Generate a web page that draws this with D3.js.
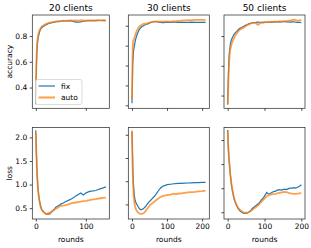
<!DOCTYPE html>
<html>
<head>
<meta charset="utf-8">
<script src="https://cdn.jsdelivr.net/npm/d3@7"></script>
<style>
  html, body { margin: 0; padding: 0; background: #fff; }
  svg text { font-family: "DejaVu Sans", sans-serif; fill: #000; }
</style>
</head>
<body>
<svg id="chart" width="311" height="248"></svg>
<script>
// ---- data ----
var titles = ["20 clients", "30 clients", "50 clients"];
var seriesNames = ["fix", "auto"];

var rounds20 = [0,1,2,3,4,5,6,8,10,12,15,18,20,23,25,28,30,33,35,38,40,43,45,48,50,55,60,65,70,75,80,85,90,95,100,105,110,115,120,125,130,135,140];
var acc20Fix = [0.27,0.52,0.66,0.73,0.77,0.79,0.81,0.84,0.855,0.865,0.875,0.882,0.887,0.893,0.897,0.9,0.902,0.905,0.907,0.909,0.911,0.913,0.912,0.915,0.916,0.918,0.917,0.92,0.918,0.914,0.909,0.908,0.91,0.915,0.918,0.92,0.919,0.921,0.92,0.922,0.921,0.922,0.921];
var acc20Auto = [0.33,0.58,0.7,0.76,0.79,0.81,0.83,0.85,0.865,0.874,0.882,0.889,0.893,0.898,0.9,0.904,0.906,0.908,0.91,0.912,0.914,0.915,0.916,0.914,0.917,0.919,0.918,0.92,0.921,0.92,0.921,0.92,0.922,0.921,0.92,0.922,0.921,0.922,0.921,0.922,0.922,0.921,0.921];
var loss20Fix = [2.15,1.75,1.4,1.15,0.98,0.86,0.76,0.62,0.53,0.47,0.43,0.4,0.385,0.37,0.375,0.38,0.4,0.43,0.46,0.49,0.52,0.54,0.55,0.57,0.585,0.61,0.64,0.665,0.69,0.72,0.76,0.79,0.82,0.78,0.82,0.845,0.86,0.865,0.875,0.895,0.915,0.93,0.95];
var loss20Auto = [2.1,1.7,1.36,1.12,0.95,0.83,0.74,0.6,0.51,0.46,0.42,0.39,0.375,0.38,0.4,0.39,0.42,0.44,0.45,0.47,0.49,0.5,0.52,0.54,0.55,0.555,0.565,0.58,0.6,0.61,0.62,0.63,0.64,0.65,0.655,0.665,0.675,0.685,0.69,0.7,0.71,0.72,0.725];

var rounds30 = [0,1,2,3,4,5,7,9,11,14,17,20,24,28,33,38,43,48,52,57,62,67,72,76,81,86,90,95,100,110,120,125,130,140,150,160,170,180,190,200,210];
var acc30Fix = [0.51,0.6,0.7,0.74,0.765,0.78,0.8,0.82,0.835,0.852,0.866,0.878,0.888,0.895,0.9,0.905,0.908,0.912,0.915,0.918,0.92,0.921,0.92,0.918,0.917,0.916,0.916,0.917,0.917,0.917,0.918,0.918,0.917,0.917,0.917,0.917,0.918,0.917,0.917,0.917,0.917];
var acc30Auto = [0.53,0.66,0.78,0.82,0.825,0.83,0.84,0.85,0.862,0.875,0.885,0.893,0.9,0.905,0.909,0.91,0.912,0.915,0.917,0.92,0.921,0.922,0.921,0.922,0.921,0.922,0.921,0.922,0.922,0.921,0.923,0.922,0.924,0.925,0.927,0.928,0.928,0.929,0.929,0.929,0.928];
var loss30Fix = [2.07,1.75,1.4,1.15,0.97,0.84,0.68,0.59,0.54,0.5,0.46,0.42,0.39,0.39,0.41,0.45,0.5,0.55,0.58,0.62,0.66,0.7,0.76,0.8,0.85,0.88,0.9,0.91,0.925,0.935,0.945,0.95,0.952,0.955,0.958,0.962,0.965,0.968,0.97,0.973,0.975];
var loss30Auto = [2.09,1.65,1.25,0.98,0.8,0.67,0.53,0.45,0.4,0.36,0.33,0.31,0.295,0.295,0.31,0.35,0.4,0.45,0.49,0.52,0.55,0.58,0.61,0.63,0.66,0.675,0.685,0.695,0.7,0.71,0.73,0.72,0.73,0.74,0.75,0.76,0.765,0.77,0.78,0.785,0.795];

var rounds50 = [0,1,2,3,4,5,7,9,11,14,17,20,24,28,33,38,43,48,52,57,62,67,72,77,82,87,92,97,102,106,110,115,120,125,130,135,140,145,150,155,160,165,170,175,180,185,190,195,200];
var acc50Fix = [0.34,0.45,0.55,0.62,0.67,0.7,0.74,0.765,0.78,0.795,0.81,0.82,0.83,0.842,0.852,0.858,0.865,0.872,0.876,0.882,0.886,0.889,0.891,0.892,0.894,0.893,0.89,0.892,0.894,0.893,0.892,0.894,0.895,0.894,0.896,0.895,0.897,0.896,0.898,0.897,0.896,0.895,0.894,0.896,0.895,0.893,0.892,0.893,0.891];
var acc50Auto = [0.34,0.42,0.5,0.56,0.62,0.67,0.71,0.73,0.75,0.77,0.785,0.8,0.815,0.83,0.842,0.85,0.856,0.866,0.872,0.878,0.884,0.888,0.89,0.886,0.876,0.885,0.893,0.89,0.895,0.893,0.896,0.894,0.897,0.895,0.898,0.896,0.899,0.898,0.899,0.901,0.9,0.903,0.905,0.908,0.911,0.907,0.902,0.905,0.909];
var loss50Fix = [2.21,2.0,1.82,1.68,1.58,1.49,1.3,1.15,1.03,0.9,0.79,0.71,0.64,0.58,0.53,0.5,0.48,0.475,0.48,0.5,0.53,0.58,0.61,0.64,0.67,0.71,0.76,0.8,0.86,0.91,0.88,0.89,0.91,0.93,0.94,0.96,0.97,0.96,0.97,0.98,0.97,0.99,1.0,1.0,1.01,1.0,1.02,1.04,1.07];
var loss50Auto = [2.19,1.98,1.8,1.66,1.56,1.47,1.3,1.16,1.05,0.92,0.81,0.73,0.66,0.6,0.55,0.52,0.5,0.49,0.49,0.5,0.52,0.55,0.58,0.61,0.64,0.68,0.72,0.76,0.8,0.83,0.85,0.86,0.87,0.875,0.88,0.89,0.9,0.91,0.92,0.925,0.92,0.9,0.89,0.885,0.88,0.88,0.885,0.89,0.9];

var xTicks20 = [0, 100];
var xTicks = [0, 100, 200];
var accTicks20 = [0.4, 0.6, 0.8];
var accTicks30 = [0.5, 0.6, 0.7, 0.8, 0.9];
var accTicks50 = [0.4, 0.6, 0.8];
var lossTicks = [0.5, 1.0, 1.5, 2.0];

// ---- layout ----
var colors = { fix: "#1f77b4", auto: "#ff7f0e" };
var cols = [[32.3, 109.3], [128.3, 209.3], [224, 305]];
var rows = [[15, 108.3], [127.5, 219]];
var tickFont = 7.5, titleFont = 9;

var panels = [
  { r: 0, c: 0, x: rounds20, fix: acc20Fix, auto: acc20Auto, xd: [-7, 147], yd: [0.2386, 0.9637], yt: accTicks20, xt: xTicks20 },
  { r: 0, c: 1, x: rounds30, fix: acc30Fix, auto: acc30Auto, xd: [-10.5, 220.5], yd: [0.485, 0.954], yt: accTicks30, xt: xTicks },
  { r: 0, c: 2, x: rounds50, fix: acc50Fix, auto: acc50Auto, xd: [-10, 210], yd: [0.3143, 0.9417], yt: accTicks50, xt: xTicks },
  { r: 1, c: 0, x: rounds20, fix: loss20Fix, auto: loss20Auto, xd: [-7, 147], yd: [0.27, 2.21], yt: lossTicks, xt: xTicks20 },
  { r: 1, c: 1, x: rounds30, fix: loss30Fix, auto: loss30Auto, xd: [-10.5, 220.5], yd: [0.186, 2.157], yt: lossTicks, xt: xTicks },
  { r: 1, c: 2, x: rounds50, fix: loss50Fix, auto: loss50Auto, xd: [-10, 210], yd: [0.36, 2.26], yt: lossTicks, xt: xTicks }
];

var svg = d3.select("#chart");

panels.forEach(function (p) {
  var x0 = cols[p.c][0], x1 = cols[p.c][1];
  var y0 = rows[p.r][0], y1 = rows[p.r][1];
  var x = d3.scaleLinear().domain(p.xd).range([x0, x1]);
  var y = d3.scaleLinear().domain(p.yd).range([y1, y0]);

  var g = svg.append("g");

  // x axis
  var xAxis = d3.axisBottom(x).tickValues(p.xt).tickSizeOuter(0).tickSize(2.6).tickPadding(2.4);
  if (p.r === 0) xAxis.tickFormat("");
  var gx = g.append("g").attr("transform", "translate(0," + y1 + ")").call(xAxis);

  // y axis
  var yAxis = d3.axisLeft(y).tickValues(p.yt).tickSizeOuter(0).tickSize(2.6).tickPadding(2.4).tickFormat(d3.format(".1f"));
  if (p.c !== 0) yAxis.tickFormat("");
  var gy = g.append("g").attr("transform", "translate(" + x0 + ",0)").call(yAxis);

  [gx, gy].forEach(function (a) {
    a.select(".domain").remove();
    a.selectAll("line").attr("stroke", "#000").attr("stroke-width", 0.7);
    a.selectAll("text").attr("font-size", tickFont).attr("fill", "#000").attr("font-family", "DejaVu Sans");
  });

  var clip = "clip" + p.r + p.c;
  g.append("clipPath").attr("id", clip).append("rect")
    .attr("x", x0).attr("y", y0).attr("width", x1 - x0).attr("height", y1 - y0);

  var line = d3.line()
    .x(function (d) { return x(d[0]); })
    .y(function (d) { return y(d[1]); });

  g.append("path")
    .attr("d", line(d3.zip(p.x, p.fix)))
    .attr("clip-path", "url(#" + clip + ")")
    .attr("fill", "none").attr("stroke", colors.fix).attr("stroke-width", 1.2);
  g.append("path")
    .attr("d", line(d3.zip(p.x, p.auto)))
    .attr("clip-path", "url(#" + clip + ")")
    .attr("fill", "none").attr("stroke", colors.auto).attr("stroke-width", 1.8).attr("stroke-opacity", 0.75);

  g.append("rect")
    .attr("x", x0).attr("y", y0).attr("width", x1 - x0).attr("height", y1 - y0)
    .attr("fill", "none").attr("stroke", "#222").attr("stroke-width", 0.7);

  if (p.r === 0) {
    g.append("text").attr("x", (x0 + x1) / 2).attr("y", 10.5)
      .attr("text-anchor", "middle").attr("font-size", titleFont).text(titles[p.c]);
  } else {
    g.append("text").attr("x", (x0 + x1) / 2).attr("y", 242)
      .attr("text-anchor", "middle").attr("font-size", tickFont).text("rounds");
  }
  if (p.c === 0) {
    var cy = (y0 + y1) / 2;
    g.append("text").attr("transform", "translate(11.5," + cy + ") rotate(-90)")
      .attr("text-anchor", "middle").attr("font-size", tickFont)
      .text(p.r === 0 ? "accuracy" : "loss");
  }
});

// legend in first panel
var lg = svg.append("g").attr("transform", "translate(35.5,79.5)");
lg.append("rect").attr("width", 46.5).attr("height", 25).attr("rx", 2)
  .attr("fill", "#fff").attr("fill-opacity", 0.8).attr("stroke", "#ccc").attr("stroke-width", 0.7);
seriesNames.forEach(function (name, i) {
  var yy = 6.5 + i * 11.5;
  lg.append("line").attr("x1", 3).attr("x2", 19.5).attr("y1", yy).attr("y2", yy)
    .attr("stroke", colors[name])
    .attr("stroke-width", name === "auto" ? 2.2 : 1.2)
    .attr("stroke-opacity", name === "auto" ? 0.7 : 1);
  lg.append("text").attr("x", 25.5).attr("y", yy + 2.7).attr("font-size", tickFont).text(name);
});
</script>
</body>
</html>
